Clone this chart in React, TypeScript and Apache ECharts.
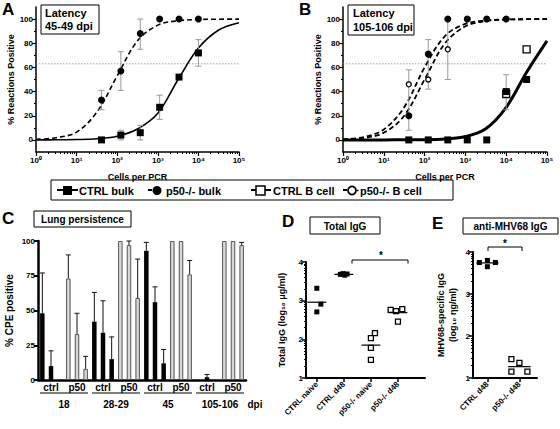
import React, { useEffect, useRef } from "react";
import * as echarts from "echarts";

const FONT = '"Liberation Sans", Arial, Helvetica, sans-serif';

// ---------- Panels A / B : limiting-dilution PCR ----------
const cellsPerPCR = [41, 123, 370, 1111, 3333, 10000];
const aCtrlBulk = [0, 4, 6, 27, 52, 72];
const aCtrlBulkErrLo = [null, 0, 0, 17, null, 61];
const aCtrlBulkErrHi = [null, 8, 12, 37, null, 83];
const aP50Bulk = [33, 57, 88, 100, 100, 100];
const aP50BulkErrLo = [25, 41, 75, null, null, null];
const aP50BulkErrHi = [41, 73, 100, null, null, null];

const fitX = [1, 3.162, 10, 31.62, 100, 316.2, 1000, 3162, 10000, 31623, 100000];
const aCtrlFit = [0, 0.1, 0.3, 1, 3, 9, 22, 50, 76, 91, 97];
const aP50Fit = [0.5, 1.8, 6.5, 23, 53, 82, 95, 98.6, 99.6, 99.9, 100];

const bCtrlBulkX = [41, 123, 370, 1111, 3333, 10000, 31623];
const bCtrlBulk = [0, 0, 0, 0, 0, 40, 50];
const bCtrlBcellX = [10000, 31623];
const bCtrlBcell = [38, 75];
const bCtrlBcellErrLo = [25, null];
const bCtrlBcellErrHi = [54, null];
const bP50Bulk = [20, 71, 100, 100, 100, 100];
const bP50Bcell = [46, 50, 75, 100, 100, 100];
const bP50BcellErrLo = [8, 42, 50, null, null, null];
const bP50BcellErrHi = [58, 83, 100, null, null, null];
const bCtrlFit = [0, 0, 0, 0.1, 0.2, 0.8, 2.8, 9.3, 27, 56, 82];
const bP50BulkFit = [0.6, 2.3, 8.7, 27, 60, 86, 96, 98.9, 99.7, 99.9, 100];
const bP50BcellFit = [0.4, 1.6, 5.9, 20, 50, 80, 94, 98.4, 99.6, 99.9, 100];
const poissonLevel = 63;
const decadeLabels = ["10\u2070", "10\u00b9", "10\u00b2", "10\u00b3", "10\u2074", "10\u2075"];

// ---------- Panel C : lung persistence ----------
const cTimes = ["18", "28-29", "45", "105-106"];
const cGroups = ["ctrl", "p50"];
const cCtrl = [[48, 10, 0], [42, 34, 15], [93, 56, 12], [0, 2, 0]];
const cCtrlErr = [[77, 21, null], [63, 57, 31], [99, 67, 22], [null, 4, null]];
const cP50 = [[73, 33, 8], [100, 97, 59], [100, 100, 76], [100, 100, 97]];
const cP50Err = [[90, 48, 17], [null, 100, 87], [null, null, 86], [null, null, 99]];

// ---------- Panel D : total IgG ----------
const dCats = ["CTRL naive", "CTRL d48", "p50-/- naive", "p50-/- d48"];
const dCtrlNaive = [3.32, 2.91, 2.71];
const dCtrlNaiveJitter = [0, 0.15, 0];
const dCtrlD48 = [3.68, 3.7, 3.66, 3.69];
const dCtrlD48Jitter = [-0.13, -0.03, 0.03, 0.12];
const dP50Naive = [2.16, 2.03, 1.78, 1.47];
const dP50NaiveJitter = [0.15, 0, 0, 0];
const dP50D48 = [2.76, 2.73, 2.78, 2.46];
const dP50D48Jitter = [-0.27, -0.07, 0.16, 0];
const dMeans = [2.96, 3.68, 1.85, 2.69];

// ---------- Panel E : anti-MHV68 IgG ----------
const eCats = ["CTRL d48", "p50-/- d48"];
const eCtrlD48 = [3.75, 3.8, 3.75, 3.65];
const eCtrlD48Jitter = [-0.25, 0, 0.25, 0];
const eP50D48 = [1.45, 1.36, 1.15, 1.15];
const eP50D48Jitter = [-0.25, 0, -0.25, 0.25];
const eMeans = [3.74, 1.27];

const bold = (size: number) => ({ fontFamily: FONT, fontWeight: "bold", fontSize: size, color: "#000" });

function logMinor(from: number, to: number) {
  const out: number[] = [];
  for (let k = from; k < to; k++) for (let m = 2; m <= 9; m++) out.push(k + Math.log10(m));
  return out;
}

function errItems(xs: number[], lo: (number | null)[], hi: (number | null)[]) {
  const out: number[][] = [];
  xs.forEach((x, i) => {
    if (lo[i] != null && hi[i] != null) out.push([x, lo[i] as number, hi[i] as number]);
  });
  return out;
}

const errRender = (color: string, cap: number, lw: number, lowerCap: boolean) => (params: any, api: any) => {
  const x = api.value(0);
  const a = api.coord([x, api.value(1)]);
  const b = api.coord([x, api.value(2)]);
  const st = { stroke: color, lineWidth: lw };
  const children: any[] = [
    { type: "line", shape: { x1: a[0], y1: a[1], x2: b[0], y2: b[1] }, style: st },
    { type: "line", shape: { x1: b[0] - cap, y1: b[1], x2: b[0] + cap, y2: b[1] }, style: st },
  ];
  if (lowerCap) children.push({ type: "line", shape: { x1: a[0] - cap, y1: a[1], x2: a[0] + cap, y2: a[1] }, style: st });
  return { type: "group", children };
};

const meanRender = (half: number) => (params: any, api: any) => {
  const x = api.value(0);
  const y = api.value(1);
  const a = api.coord([x - half, y]);
  const b = api.coord([x + half, y]);
  return { type: "line", shape: { x1: a[0], y1: a[1], x2: b[0], y2: b[1] }, style: { stroke: "#000", lineWidth: 1.2 } };
};

const axLine = (w: number, show = true) => ({ show, onZero: false, lineStyle: { color: "#000", width: w } });

function buildOption() {
  const G = {
    A: { left: 36, top: 7, width: 203, height: 145 },
    B: { left: 343, top: 7, width: 204, height: 145 },
    C: { left: 38, top: 241, width: 208, height: 139 },
    D: { left: 306, top: 262, width: 119, height: 116 },
    E: { left: 473, top: 252, width: 64, height: 126 },
  };

  const logX = (grid: number, name: string) => ({
    type: "log", logBase: 10, min: 1, max: 100000, gridIndex: grid, position: "bottom",
    axisLine: axLine(1.5),
    axisTick: { show: true, length: 4, lineStyle: { color: "#000", width: 1.2 } },
    axisLabel: { ...bold(8), margin: 4, formatter: (v: number) => decadeLabels[Math.round(Math.log10(v))] },
    splitLine: { show: false },
    name, nameLocation: "middle", nameGap: 20, nameTextStyle: bold(9),
  });
  const minorX = (grid: number) => ({
    type: "value", min: 0, max: 5, gridIndex: grid, position: "bottom",
    axisLine: { show: false, onZero: false }, axisLabel: { show: false }, splitLine: { show: false },
    axisTick: { show: true, length: 2, customValues: logMinor(0, 5), lineStyle: { color: "#000", width: 1 } },
  });
  const pctY = (grid: number) => ({
    type: "value", min: -10, max: 110, gridIndex: grid, position: "left",
    axisLine: axLine(1.5),
    axisTick: { show: true, length: 4, customValues: [0, 20, 40, 60, 80, 100], lineStyle: { color: "#000", width: 1.2 } },
    axisLabel: { ...bold(8), margin: 3, customValues: [0, 20, 40, 60, 80, 100] },
    splitLine: { show: false },
    name: "% Reactions Positive", nameLocation: "middle", nameGap: 21, nameRotate: 90, nameTextStyle: bold(9),
  });
  const pctMinorY = (grid: number) => ({
    type: "value", min: -10, max: 110, gridIndex: grid, position: "left",
    axisLine: { show: false, onZero: false }, axisLabel: { show: false }, splitLine: { show: false },
    axisTick: { show: true, length: 2, customValues: [10, 30, 50, 70, 90], lineStyle: { color: "#000", width: 1 } },
  });
  const igY = (grid: number, name: string, gap: number) => ({
    type: "value", min: 1, max: 4, interval: 1, gridIndex: grid, position: "left",
    axisLine: axLine(2),
    axisTick: { show: true, length: 4, lineStyle: { color: "#000", width: 1.5 } },
    axisLabel: { ...bold(8), margin: 3 },
    splitLine: { show: false },
    name, nameLocation: "middle", nameGap: gap, nameRotate: 90, nameTextStyle: { ...bold(9), lineHeight: 12 },
  });
  const igMinorY = (grid: number) => ({
    type: "value", min: 1, max: 4, gridIndex: grid, position: "left",
    axisLine: { show: false, onZero: false }, axisLabel: { show: false }, splitLine: { show: false },
    axisTick: { show: true, length: 2, customValues: logMinor(1, 4), lineStyle: { color: "#000", width: 1 } },
  });
  const catX = (grid: number, min: number, max: number, names: string[]) => ({
    type: "value", min, max, gridIndex: grid, position: "bottom",
    axisLine: axLine(2),
    axisTick: { show: true, length: 4, customValues: names.map((_, i) => i), lineStyle: { color: "#000", width: 1.5 } },
    axisLabel: { ...bold(8), margin: 5, rotate: 45, customValues: names.map((_, i) => i), formatter: (v: number) => names[Math.round(v)] },
    splitLine: { show: false },
  });

  const barCats: string[] = [];
  const barData: any[] = [];
  const barErr: number[][] = [];
  cTimes.forEach((t, ti) => {
    [cCtrl, cP50].forEach((src, gi) => {
      const errSrc = gi === 0 ? cCtrlErr : cP50Err;
      src[ti].forEach((v, k) => {
        const idx = barCats.length;
        barCats.push(`${t}-${cGroups[gi]}-${k}`);
        barData.push({
          value: v,
          itemStyle: gi === 0 ? { color: "#000" } : { color: "#d9d9d9", borderColor: "#555", borderWidth: 1 },
        });
        const e = errSrc[ti][k];
        if (e != null) barErr.push([idx, v, e]);
      });
    });
  });
  const groupLabels = cTimes.flatMap(() => cGroups);

  const xy = (xs: number[], ys: number[]) => xs.map((x, i) => [x, ys[i]]);
  const jit = (base: number, ys: number[], j: number[]) => ys.map((y, i) => [base + j[i], y]);

  const curve = (xi: number, yi: number, ys: number[], dashed: boolean, w: number) => ({
    type: "line", xAxisIndex: xi, yAxisIndex: yi, data: xy(fitX, ys), smooth: 0.35, symbol: "none",
    lineStyle: { color: "#000", width: w, type: dashed ? [5, 3] : "solid" }, silent: true, z: 2,
  });
  const refLine = (xi: number, yi: number) => ({
    type: "line", xAxisIndex: xi, yAxisIndex: yi, data: [[1, poissonLevel], [100000, poissonLevel]], symbol: "none",
    lineStyle: { color: "#8a8a8a", width: 0.8, type: [1.5, 1.5] }, silent: true, z: 1,
  });
  const err = (xi: number, yi: number, data: number[][], color: string, cap: number, lower: boolean) => ({
    type: "custom", xAxisIndex: xi, yAxisIndex: yi, data, renderItem: errRender(color, cap, 1, lower),
    encode: { x: 0, y: [1, 2] }, z: 3, silent: true,
  });
  const pts = (xi: number, yi: number, data: number[][], symbol: string, size: number, filled: boolean) => ({
    type: "scatter", xAxisIndex: xi, yAxisIndex: yi, data, symbol, symbolSize: size, z: 5,
    itemStyle: filled
      ? { color: "#000", opacity: 1 }
      : { color: "#fff", borderColor: "#000", borderWidth: 1.3, opacity: 1 },
  });
  const means = (xi: number, yi: number, data: number[][], half: number) => ({
    type: "custom", xAxisIndex: xi, yAxisIndex: yi, data, renderItem: meanRender(half), z: 6, silent: true,
  });

  const band = G.C.width / barCats.length;
  const underlines = cTimes.map((_, ti) => ({
    type: "line",
    shape: { x1: G.C.left + ti * 6 * band + 2, y1: 393, x2: G.C.left + (ti + 1) * 6 * band - 2, y2: 393 },
    style: { stroke: "#000", lineWidth: 1 },
  }));

  const txt = (text: string, x: number, y: number, size: number, align = "left", vAlign = "top") => ({
    type: "text", x, y, silent: true,
    style: { text, fontSize: size, fontWeight: "bold", fontFamily: FONT, fill: "#000", align, verticalAlign: vAlign },
  });
  const box = (x: number, y: number, w: number, h: number) => ({
    type: "rect", shape: { x, y, width: w, height: h }, style: { fill: "#fff", stroke: "#000", lineWidth: 1 },
  });
  const seg = (x1: number, y1: number, x2: number, y2: number, w = 1.5) => ({
    type: "line", shape: { x1, y1, x2, y2 }, style: { stroke: "#000", lineWidth: w },
  });

  const graphic: any[] = [
    txt("A", 2, 1, 17), txt("B", 299, 1, 17), txt("C", 2, 210, 17), txt("D", 282, 213, 17), txt("E", 432, 215, 17),
    box(41, 5, 58, 29), txt("Latency", 45, 7, 11), txt("45-49 dpi", 45, 20, 11),
    box(348, 5, 66, 30), txt("Latency", 353, 7, 11), txt("105-106 dpi", 353, 21, 11),
    box(34, 211, 97, 16), txt("Lung persistence", 82.5, 219.5, 10, "center", "middle"),
    box(310, 217, 70, 17), txt("Total IgG", 345, 226, 10, "center", "middle"),
    box(463, 218, 95, 16), txt("anti-MHV68 IgG", 510.5, 226.5, 10, "center", "middle"),
    // legend
    box(51, 180, 402, 20),
    seg(57, 190, 78, 190, 2), { type: "rect", shape: { x: 63, y: 186, width: 9, height: 9 }, style: { fill: "#000" } },
    txt("CTRL bulk", 79, 190.5, 11, "left", "middle"),
    seg(148, 190, 152, 190, 2), { type: "circle", shape: { cx: 157, cy: 190.5, r: 4.5 }, style: { fill: "#000" } },
    txt("p50-/- bulk", 166, 190.5, 11, "left", "middle"),
    seg(251, 190, 271, 190, 2), { type: "rect", shape: { x: 256, y: 186, width: 9, height: 9 }, style: { fill: "#fff", stroke: "#000", lineWidth: 1.5 } },
    txt("CTRL B cell", 273, 190.5, 11, "left", "middle"),
    seg(343, 190, 347, 190, 2), { type: "circle", shape: { cx: 352, cy: 190.5, r: 4 }, style: { fill: "#fff", stroke: "#000", lineWidth: 1.8 } },
    seg(357, 190.5, 358.5, 190.5, 1.5),
    txt("p50-/- B cell", 360, 190.5, 11, "left", "middle"),
    // panel C bottom annotations
    ...underlines,
    txt("dpi", 255, 404, 10, "center", "middle"),
    // significance brackets
    { type: "polyline", shape: { points: [[352, 263.5], [352, 260], [408, 260], [408, 263.5]] }, style: { stroke: "#000", lineWidth: 1, fill: null } },
    txt("*", 381, 255, 10, "center", "middle"),
    { type: "polyline", shape: { points: [[488, 251], [488, 247], [522, 247], [522, 251]] }, style: { stroke: "#000", lineWidth: 1, fill: null } },
    txt("*", 505, 243, 10, "center", "middle"),
  ];

  return {
    animation: false,
    backgroundColor: "#fff",
    grid: [G.A, G.B, G.C, G.D, G.E].map((g) => ({ ...g, containLabel: false })),
    xAxis: [
      logX(0, "Cells per PCR"), minorX(0),
      logX(1, "Cells per PCR"), minorX(1),
      {
        type: "category", data: barCats, gridIndex: 2, position: "bottom", boundaryGap: true,
        axisLine: axLine(2.5), axisTick: { show: false }, axisLabel: { show: false }, splitLine: { show: false },
      },
      {
        type: "category", data: groupLabels, gridIndex: 2, position: "bottom", offset: 0,
        axisLine: { show: false, onZero: false }, axisTick: { show: false }, axisLabel: { ...bold(10), margin: 2, interval: 0 },
      },
      {
        type: "category", data: cTimes, gridIndex: 2, position: "bottom", offset: 17,
        axisLine: { show: false, onZero: false }, axisTick: { show: false }, axisLabel: { ...bold(10), margin: 2, interval: 0 },
      },
      catX(3, -0.4, 4, dCats),
      catX(4, -0.45, 1.55, eCats),
    ],
    yAxis: [
      pctY(0), pctMinorY(0),
      pctY(1), pctMinorY(1),
      {
        type: "value", min: 0, max: 100, interval: 25, gridIndex: 2, position: "left",
        axisLine: axLine(2.5),
        axisTick: { show: true, length: 4, lineStyle: { color: "#000", width: 2 } },
        axisLabel: { ...bold(8), margin: 3 }, splitLine: { show: false },
        name: "% CPE positive", nameLocation: "middle", nameGap: 24, nameRotate: 90, nameTextStyle: bold(10),
      },
      igY(3, "Total IgG (log\u2081\u2080 \u03bcg/ml)", 18), igMinorY(3),
      igY(4, "MHV68-specific IgG\n(log\u2081\u2080 \u03b7g/ml)", 14), igMinorY(4),
    ],
    series: [
      // A
      refLine(0, 0),
      curve(0, 0, aCtrlFit, false, 1.6),
      curve(0, 0, aP50Fit, true, 1.6),
      err(0, 0, errItems(cellsPerPCR, aCtrlBulkErrLo, aCtrlBulkErrHi), "#999", 3, true),
      err(0, 0, errItems(cellsPerPCR, aP50BulkErrLo, aP50BulkErrHi), "#999", 3, true),
      pts(0, 0, xy(cellsPerPCR, aCtrlBulk), "rect", 7, true),
      pts(0, 0, xy(cellsPerPCR, aP50Bulk), "circle", 7, true),
      // B
      refLine(2, 2),
      curve(2, 2, bCtrlFit, false, 3),
      curve(2, 2, bP50BulkFit, true, 1.8),
      curve(2, 2, bP50BcellFit, true, 1.8),
      err(2, 2, errItems(bCtrlBcellX, bCtrlBcellErrLo, bCtrlBcellErrHi), "#999", 3, true),
      err(2, 2, errItems(cellsPerPCR, bP50BcellErrLo, bP50BcellErrHi), "#999", 3, true),
      pts(2, 2, xy(bCtrlBcellX, bCtrlBcell), "rect", 7, false),
      pts(2, 2, xy(bCtrlBulkX, bCtrlBulk), "rect", 7, true),
      pts(2, 2, xy(cellsPerPCR, bP50Bcell), "circle", 5, false),
      pts(2, 2, xy(cellsPerPCR, bP50Bulk), "circle", 7, true),
      // C
      {
        type: "bar", xAxisIndex: 4, yAxisIndex: 4, data: barData, barWidth: 4.5, z: 2,
      },
      err(4, 4, barErr, "#111", 2.5, false),
      // D
      means(7, 5, dMeans.map((m, i) => [i, m]), 0.35),
      pts(7, 5, jit(0, dCtrlNaive, dCtrlNaiveJitter), "rect", 5, true),
      pts(7, 5, jit(1, dCtrlD48, dCtrlD48Jitter), "rect", 5, true),
      pts(7, 5, jit(2, dP50Naive, dP50NaiveJitter), "rect", 5, false),
      pts(7, 5, jit(3, dP50D48, dP50D48Jitter), "rect", 5, false),
      // E
      means(8, 7, eMeans.map((m, i) => [i, m]), 0.35),
      pts(8, 7, jit(0, eCtrlD48, eCtrlD48Jitter), "rect", 5, true),
      pts(8, 7, jit(1, eP50D48, eP50D48Jitter), "rect", 5, false),
    ],
    graphic,
  };
}

export default function App() {
  const ref = useRef<HTMLDivElement>(null);
  useEffect(() => {
    document.body.style.margin = "0";
    const chart = echarts.init(ref.current as HTMLDivElement, null, { renderer: "svg" });
    chart.setOption(buildOption() as any);
    return () => chart.dispose();
  }, []);
  return <div ref={ref} style={{ width: 560, height: 429, background: "#fff" }} />;
}
